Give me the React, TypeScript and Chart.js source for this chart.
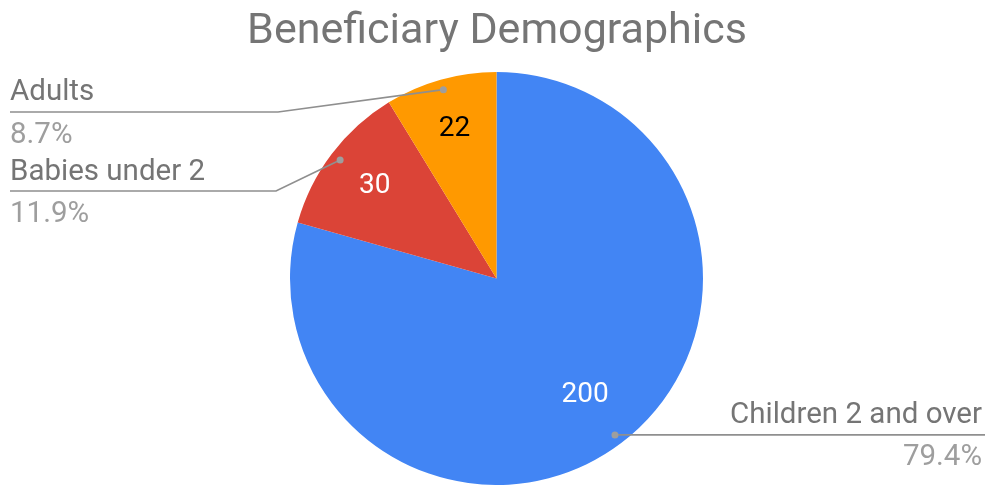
import React, { useEffect, useRef } from "react";
import { Chart, registerables } from "chart.js";

Chart.register(...registerables);

const title = "Beneficiary Demographics";
const categories = ["Children 2 and over", "Babies under 2", "Adults"];
const values = [200, 30, 22];
const sliceColors = ["#4285F4", "#DB4437", "#FF9900"];
const valueTextColors = ["#ffffff", "#ffffff", "#000000"];

// layout for value labels and leader labels (styles/positions only)
const valueRadius = [0.71, 0.74, 0.75];
const leaderLayout = [
  { side: "right", textX: 982, lineEnd: 985, nameY: 423, pctY: 465 },
  { side: "left", textX: 10, lineEnd: 10, elbowX: 276, lineY: 191, nameY: 180, pctY: 222 },
  { side: "left", textX: 10, lineEnd: 10, elbowX: 278, lineY: 112, nameY: 100, pctY: 143 },
];

const labelPlugin = {
  id: "googleLabels",
  afterDraw(chart: any) {
    const ctx = chart.ctx as CanvasRenderingContext2D;
    const meta = chart.getDatasetMeta(0);
    const total = values.reduce((a, b) => a + b, 0);
    ctx.save();
    ctx.font = "43px Roboto";
    ctx.fillStyle = "#757575";
    ctx.textAlign = "center";
    ctx.textBaseline = "alphabetic";
    ctx.fillText(title, 497, 43);

    meta.data.forEach((arc: any, i: number) => {
      const p = arc.getProps(["x", "y", "startAngle", "endAngle", "outerRadius"], true);
      const mid = (p.startAngle + p.endAngle) / 2;
      const c = Math.cos(mid);
      const s = Math.sin(mid);
      // value label
      const vr = p.outerRadius * valueRadius[i];
      ctx.font = "28px Roboto";
      ctx.textAlign = "center";
      ctx.textBaseline = "middle";
      ctx.fillStyle = valueTextColors[i];
      ctx.fillText(String(values[i]), p.x + c * vr, p.y + s * vr);

      // leader
      const dr = p.outerRadius * 0.95;
      const dx = p.x + c * dr;
      const dy = p.y + s * dr;
      const L: any = leaderLayout[i];
      ctx.strokeStyle = "#8f8f8f";
      ctx.lineWidth = 1.7;
      ctx.beginPath();
      ctx.moveTo(dx, dy);
      if (L.side === "right") {
        ctx.lineTo(L.lineEnd, dy);
      } else {
        ctx.lineTo(L.elbowX, L.lineY);
        ctx.lineTo(L.lineEnd, L.lineY);
      }
      ctx.stroke();
      ctx.fillStyle = "#9e9e9e";
      ctx.beginPath();
      ctx.arc(dx, dy, 3.5, 0, Math.PI * 2);
      ctx.fill();

      ctx.textBaseline = "alphabetic";
      ctx.textAlign = L.side === "right" ? "right" : "left";
      ctx.font = "29.5px Roboto";
      ctx.fillStyle = "#757575";
      ctx.fillText(categories[i], L.textX, L.nameY);
      ctx.fillStyle = "#9e9e9e";
      ctx.fillText(((values[i] / total) * 100).toFixed(1) + "%", L.textX, L.pctY);
    });
    ctx.restore();
  },
};

export default function App() {
  const ref = useRef<HTMLCanvasElement>(null);
  useEffect(() => {
    let chart: Chart | null = null;
    let cancelled = false;
    const make = () => {
      if (cancelled || !ref.current) return;
      chart = new Chart(ref.current, {
        type: "pie",
        data: {
          labels: categories,
          datasets: [
            {
              data: values,
              backgroundColor: sliceColors,
              borderWidth: 0,
            },
          ],
        },
        options: {
          responsive: false,
          animation: false,
          layout: { padding: { top: 72, bottom: 0, left: 290, right: 283 } },
          plugins: {
            legend: { display: false },
            tooltip: { enabled: false },
            title: { display: false },
          },
        },
        plugins: [labelPlugin],
      });
    };
    const fonts: any = (document as any).fonts;
    if (fonts && fonts.load) {
      Promise.all([fonts.load("43px Roboto"), fonts.load("28px Roboto")]).then(make, make);
    } else make();
    return () => {
      cancelled = true;
      if (chart) chart.destroy();
    };
  }, []);
  return (
    <div style={{ position: "fixed", left: 0, top: 0, width: 986, height: 485, background: "#fff", overflow: "hidden" }}>
      <canvas ref={ref} width={986} height={485} style={{ display: "block" }} />
    </div>
  );
}
